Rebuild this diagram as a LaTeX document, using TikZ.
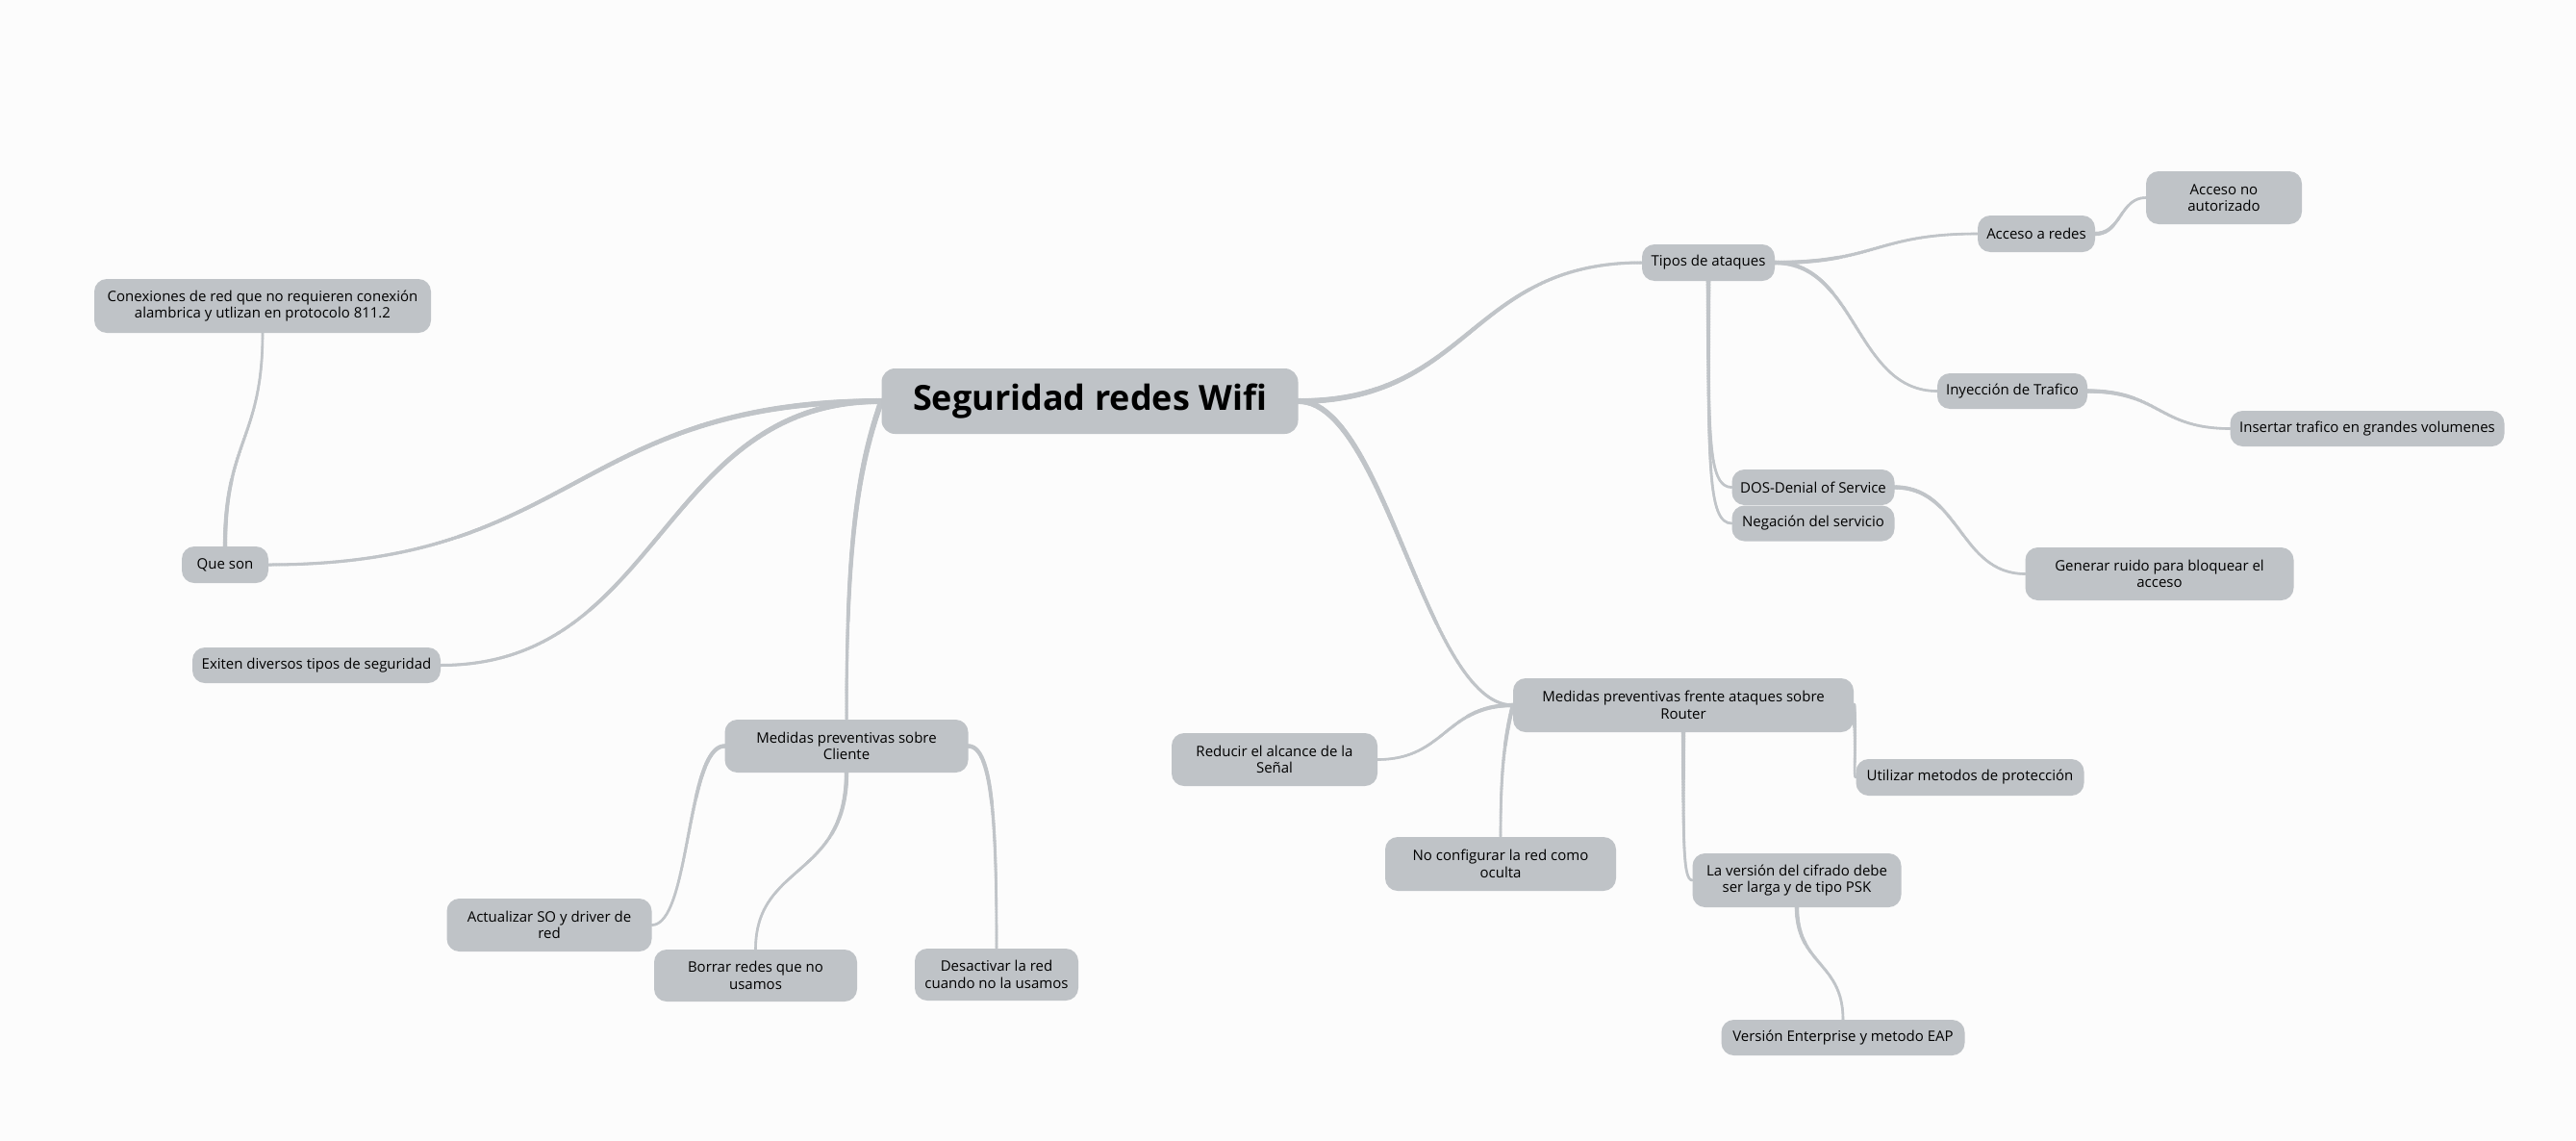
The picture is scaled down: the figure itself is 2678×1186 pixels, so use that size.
\documentclass[tikz,border=0pt]{standalone}
\usepackage{fontspec}
\setmainfont{Open Sans}
\usetikzlibrary{decorations.markings}
\definecolor{boxgray}{HTML}{BFC3C7}
\definecolor{linegray}{HTML}{C0C4C8}
\definecolor{bgcol}{HTML}{FCFCFC}
\pgfdeclarelayer{bglayer}
\pgfdeclarelayer{edgelayer}
\pgfsetlayers{bglayer,edgelayer,main}
\begin{document}
\begin{tikzpicture}[x=1pt,y=-1pt,
  topic/.style={fill=boxgray, rounded corners=13pt, inner sep=0pt, align=center,
    font=\fontsize{15}{17.5}\selectfont, text=black},
  central/.style={topic, font=\fontsize{36}{40}\selectfont\bfseries, rounded corners=14pt},
  taper/.style n args={2}{draw=linegray, line width=#2pt, line cap=round,
    postaction={decorate, decoration={markings,
      mark=between positions 0 and 1 step 1.5pt with {
        \pgfmathsetmacro\myrad{(#1-(#1-#2)*\pgfkeysvalueof{/pgf/decoration/mark info/distance from start}/\pgfdecoratedpathlength)/2}
        \fill[linegray] (0,0) circle[radius=\myrad pt];
      }}}},
  link/.style={taper={4.6}{2.6}},
  mainlink/.style={taper={6.2}{3}}]
\useasboundingbox (0,0) rectangle (2678,1186);
\begin{pgfonlayer}{bglayer}
\fill[bgcol] (0,0) rectangle (2678,1186);
\end{pgfonlayer}

\node[central, minimum width=433pt, minimum height=68pt] (c) at (1133,417) {Seguridad redes Wifi};
\node[topic, minimum width=90pt, minimum height=38pt] (queson) at (234,587) {Que son};
\node[topic, minimum width=350pt, minimum height=56pt] (conex) at (273,318) {Conexiones de red que no requieren conexión\\alambrica y utlizan en protocolo 811.2};
\node[topic, minimum width=258pt, minimum height=37pt] (exiten) at (329,691.5) {Exiten diversos tipos de seguridad};
\node[topic, minimum width=253pt, minimum height=55pt] (cliente) at (880,775.5) {Medidas preventivas sobre\\Cliente};
\node[topic, minimum width=213pt, minimum height=55pt] (actual) at (571,961.5) {Actualizar SO y driver de\\red};
\node[topic, minimum width=211pt, minimum height=54pt] (borrar) at (785.5,1014) {Borrar redes que no\\usamos};
\node[topic, minimum width=170pt, minimum height=54pt] (desact) at (1036,1013) {Desactivar la red\\cuando no la usamos};
\node[topic, minimum width=138pt, minimum height=38pt] (tipos) at (1776,273) {Tipos de ataques};
\node[topic, minimum width=122pt, minimum height=38pt] (acceso) at (2117,243) {Acceso a redes};
\node[topic, minimum width=162pt, minimum height=55pt] (noaut) at (2312,205.5) {Acceso no\\autorizado};
\node[topic, minimum width=156pt, minimum height=37pt] (inyec) at (2092,406.5) {Inyección de Trafico};
\node[topic, minimum width=285pt, minimum height=37pt] (insert) at (2461,445.5) {Insertar trafico en grandes volumenes};
\node[topic, minimum width=169pt, minimum height=37pt] (dos) at (1885,506.5) {DOS-Denial of Service};
\node[topic, minimum width=169pt, minimum height=37pt] (negac) at (1885,544) {Negación del servicio};
\node[topic, minimum width=279pt, minimum height=55pt] (ruido) at (2245,596.5) {Generar ruido para bloquear el\\acceso};
\node[topic, minimum width=354pt, minimum height=56pt] (router) at (1750,733) {Medidas preventivas frente ataques sobre\\Router};
\node[topic, minimum width=214pt, minimum height=55pt] (reducir) at (1325,789.5) {Reducir el alcance de la\\Señal};
\node[topic, minimum width=237pt, minimum height=38pt] (utilizar) at (2048,808) {Utilizar metodos de protección};
\node[topic, minimum width=240pt, minimum height=56pt] (noconf) at (1560,898) {No configurar la red como\\oculta};
\node[topic, minimum width=217pt, minimum height=56pt] (cifrado) at (1868,915) {La versión del cifrado debe\\ser larga y de tipo PSK};
\node[topic, minimum width=253pt, minimum height=37pt] (enterp) at (1916,1078.5) {Versión Enterprise y metodo EAP};

\begin{pgfonlayer}{edgelayer}
\draw[mainlink] (c.west) .. controls +(-320,0) and +(320,0) .. (queson.east);
\draw[mainlink] (c.west) .. controls +(-230,0) and +(230,0) .. (exiten.east);
\draw[mainlink] (c.west) .. controls +(-25,70) and +(0,-180) .. (cliente.north);
\draw[mainlink] (c.east) .. controls +(180,0) and +(-180,0) .. (tipos.west);
\draw[mainlink] (c.east) .. controls +(90,0) and +(-90,0) .. (router.west);
\draw[link] (queson.north) .. controls +(0,-110) and +(0,110) .. (conex.south);
\draw[link] (cliente.west) .. controls +(-40,0) and +(40,0) .. (actual.east);
\draw[link] (cliente.south) .. controls +(0,110) and +(0,-90) .. (borrar.north);
\draw[link] (cliente.east) .. controls +(25,0) and +(0,-130) .. (desact.north);
\draw[link] (tipos.east) .. controls +(105,0) and +(-105,0) .. (acceso.west);
\draw[link] (tipos.east) .. controls +(85,0) and +(-85,0) .. (inyec.west);
\draw[link] (tipos.south) .. controls +(0,160) and +(-25,0) .. (dos.west);
\draw[link] (tipos.south) .. controls +(0,190) and +(-25,0) .. (negac.west);
\draw[link] (acceso.east) .. controls +(27,0) and +(-27,0) .. (noaut.west);
\draw[link] (inyec.east) .. controls +(75,0) and +(-75,0) .. (insert.west);
\draw[link] (dos.east) .. controls +(68,0) and +(-68,0) .. (ruido.west);
\draw[link] (router.west) .. controls +(-70,0) and +(70,0) .. (reducir.east);
\draw[link] (router.west) .. controls +(-10,40) and +(0,-60) .. (noconf.north);
\draw[link] (router.east) .. controls +(3,50) and +(-3,0) .. (utilizar.west);
\draw[link] (router.south) .. controls +(0,110) and +(-10,0) .. (cifrado.west);
\draw[link] (cifrado.south) .. controls +(0,60) and +(0,-60) .. (enterp.north);
\end{pgfonlayer}
\end{tikzpicture}
\end{document}
